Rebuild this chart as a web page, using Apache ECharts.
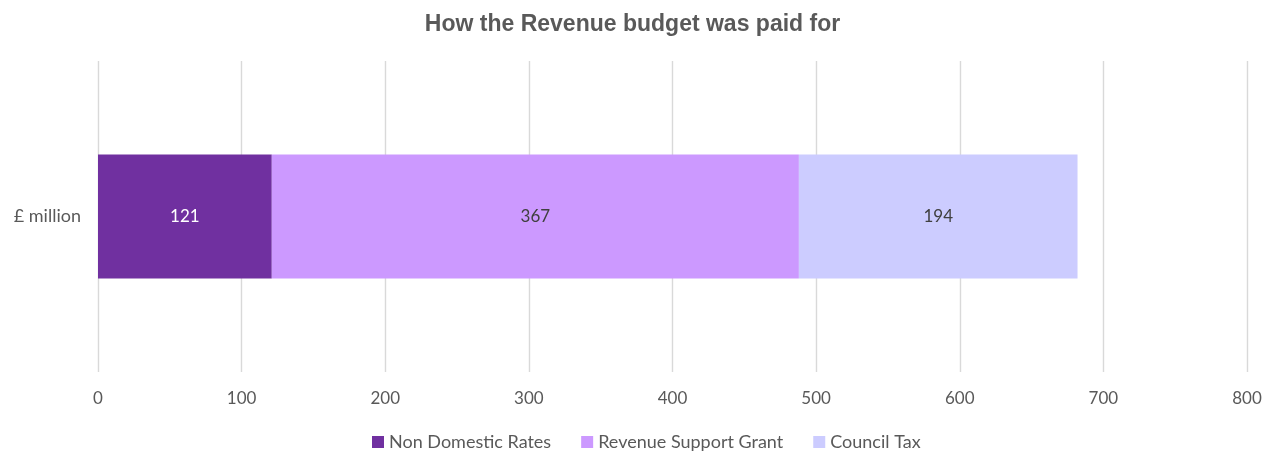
<!DOCTYPE html>
<html><head><meta charset="utf-8">
<script src="https://cdn.jsdelivr.net/npm/echarts@6/dist/echarts.min.js"></script>
<style>html,body{margin:0;padding:0;background:#fff}#c{width:1265px;height:451px}</style>
</head><body><div id="c"></div>
<script>
const categories = ['£ million'];
const nonDomesticRates = [121];
const revenueSupportGrant = [367];
const councilTax = [194];
const seriesNames = ['Non Domestic Rates', 'Revenue Support Grant', 'Council Tax'];

const chart = echarts.init(document.getElementById('c'));
const font = 'Lato, "Open Sans", sans-serif';
function s(name, data, color, labelColor) {
  return {
    name, type: 'bar', stack: 'a', data, barWidth: 124,
    itemStyle: { color },
    label: { show: true, position: 'inside', color: labelColor, fontSize: 17, fontFamily: font },
    emphasis: { disabled: true }
  };
}
chart.setOption({
  animation: false,
  title: { text: 'How the Revenue budget was paid for', left: 'center', top: 8,
    textStyle: { fontFamily: 'Liberation Sans, Arial, sans-serif', fontSize: 23, fontWeight: 'bold', color: '#595959' } },
  legend: { left: 367, top: 428, itemWidth: 12, itemHeight: 12, itemGap: 30, icon: 'rect',
    textStyle: { fontFamily: font, fontSize: 18, color: '#595959' }, data: seriesNames },
  grid: { left: 98, right: 18, top: 61, bottom: 79 },
  xAxis: { type: 'value', min: 0, max: 800, interval: 100,
    axisLine: { show: false }, axisTick: { show: false },
    splitLine: { lineStyle: { color: '#d9d9d9', width: 1.4 } },
    axisLabel: { margin: 18, fontFamily: font, fontSize: 17, color: '#595959' } },
  yAxis: { type: 'category', data: categories,
    axisLine: { show: false }, axisTick: { show: false },
    axisLabel: { margin: 17, fontFamily: font, fontSize: 18, color: '#595959' } },
  series: [
    s(seriesNames[0], nonDomesticRates, '#7030A0', '#ffffff'),
    s(seriesNames[1], revenueSupportGrant, '#CC99FF', '#404040'),
    s(seriesNames[2], councilTax, '#CCCCFF', '#404040')
  ]
});
</script></body></html>
